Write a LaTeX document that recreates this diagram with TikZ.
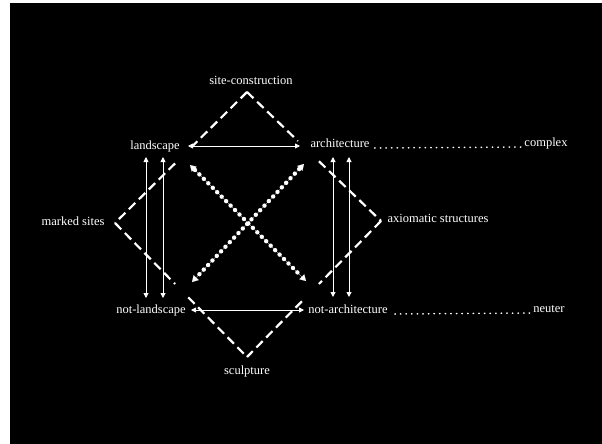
\documentclass[tikz,border=0pt]{standalone}
\usepackage{fontspec}
\setmainfont{Liberation Serif}
\usetikzlibrary{arrows.meta,calc,decorations.markings}
\begin{document}
\begin{tikzpicture}[x=1pt,y=-1pt,
  lbl/.style={text=white,font=\fontsize{12.5}{14}\selectfont,anchor=base,inner sep=0pt},
  dashline/.style={draw=white,line width=2.2pt,dash pattern=on 9pt off 5pt},
  dotline/.style={draw=white,line width=0.1pt,{Triangle[length=6pt,width=7pt]}-{Triangle[length=6pt,width=7pt]},
    postaction={decorate,decoration={markings,mark=between positions 7pt and -6pt step 6.3pt with {\fill[white] (0,0) circle (2.2pt);}}}},
  leader/.style={draw=white,line width=1.5pt,line cap=round,dash pattern=on 0.5pt off 5.1pt},
  twoway/.style={draw=white,line width=0.9pt,{Triangle[length=5pt,width=5pt]}-{Triangle[length=5pt,width=5pt]}}]
\useasboundingbox (0,0) rectangle (602,444);
\fill[white] (0,0) rectangle (602,444);
\fill[black] (10,3) rectangle (602,444);

% labels
\node[lbl] (site)    at (251,84.5)  {site-construction};
\node[lbl] (land)    at (155,149.5) {landscape};
\node[lbl] (arch)    at (340,147.5) {architecture};
\node[lbl] (complex) at (546,146.5) {complex};
\node[lbl] (marked)  at (73,225.5)  {marked sites};
\node[lbl] (axiom)   at (438,222.5) {axiomatic structures};
\node[lbl] (notland) at (151,313.5) {not-landscape};
\node[lbl] (notarch) at (348,313.5) {not-architecture};
\node[lbl] (neuter)  at (549,312.5) {neuter};
\node[lbl] (sculpt)  at (247,374.5) {sculpture};

% corners
\coordinate (cLT) at (188,146);
\coordinate (cRT) at (300,146);
\coordinate (cLB) at (191,310);
\coordinate (cRB) at (304,310);

% diamond apexes
\coordinate (T) at (247,92);
\coordinate (L) at (115,223);
\coordinate (B) at (247,357);
\coordinate (R) at (381,221);

% dashed diamond with gaps
\draw[dashline] (T) -- ($(T)!0.415!(L)$);
\draw[dashline] ($(T)!0.545!(L)$) -- (L);
\draw[dashline] (L) -- ($(L)!0.455!(B)$);
\draw[dashline] ($(L)!0.555!(B)$) -- (B);
\draw[dashline] (T) -- ($(T)!0.38!(R)$);
\draw[dashline] ($(T)!0.537!(R)$) -- (R);
\draw[dashline] (R) -- ($(R)!0.463!(B)$);
\draw[dashline] ($(R)!0.59!(B)$) -- (B);

% horizontal two-way arrows
\draw[twoway] (cLT) -- (cRT);
\draw[twoway] (cLB) -- (cRB);

% vertical two-way arrows
\coordinate (v1t) at (146,157); \coordinate (v1b) at (146,298);
\coordinate (v2t) at (163,157); \coordinate (v2b) at (163,298);
\coordinate (v3t) at (333,157); \coordinate (v3b) at (333,297);
\coordinate (v4t) at (349,157); \coordinate (v4b) at (349,297);
\draw[twoway] (v1t) -- (v1b);
\draw[twoway] (v2t) -- (v2b);
\draw[twoway] (v3t) -- (v3b);
\draw[twoway] (v4t) -- (v4b);

% dotted diagonals
\coordinate (xa) at (190,165);
\coordinate (xb) at (306,281);
\coordinate (xc) at (304,164);
\coordinate (xd) at (192,282);
\draw[dotline] (xa) -- (xb);
\draw[dotline] (xc) -- (xd);

% leaders
\draw[leader] ([xshift=5pt,yshift=-0.5pt]arch.base east) -- ([xshift=-2pt,yshift=-0.5pt]complex.base west);
\draw[leader] ([xshift=7pt,yshift=-0.5pt]notarch.base east) -- ([xshift=-2pt,yshift=-0.5pt]neuter.base west);
\end{tikzpicture}
\end{document}
